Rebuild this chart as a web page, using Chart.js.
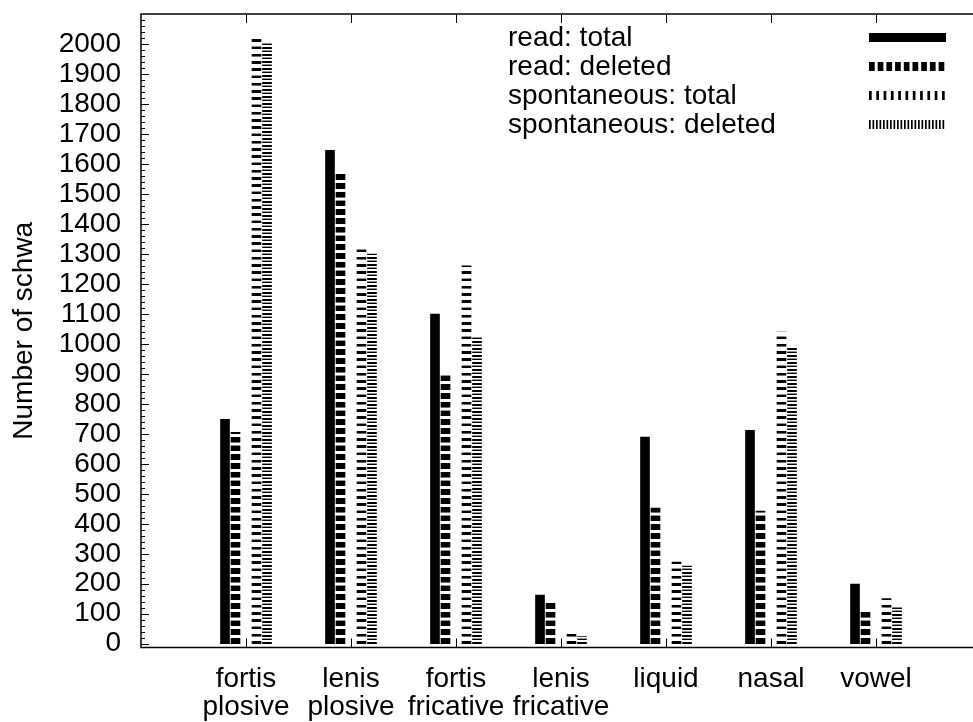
<!DOCTYPE html>
<html>
<head>
<meta charset="utf-8">
<script src="https://cdn.jsdelivr.net/npm/chart.js@4/dist/chart.umd.min.js"></script>
<style>
  html, body { margin: 0; padding: 0; background: #fff; overflow: hidden; }
  canvas { display: block; }
</style>
</head>
<body>
<canvas id="schwaChart" width="985" height="722"></canvas>
<script>
// categories on the x axis (two-line labels)
const categories = [
  ['fortis', 'plosive'], ['lenis', 'plosive'], ['fortis', 'fricative'],
  ['lenis', 'fricative'], ['liquid'], ['nasal'], ['vowel']
];
const seriesNames = ['read: total', 'read: deleted', 'spontaneous: total', 'spontaneous: deleted'];

// values
const readTotal    = [748, 1645, 1099, 162, 689, 712, 199];
const readDeleted  = [705, 1570,  899, 135, 452, 442, 105];
const spontTotal   = [2022, 1323, 1260, 32, 272, 1039, 151];
const spontDeleted = [2003, 1300, 1023, 24, 259,  987, 120];

const yTicks = [0, 100, 200, 300, 400, 500, 600, 700, 800, 900, 1000,
                1100, 1200, 1300, 1400, 1500, 1600, 1700, 1800, 1900, 2000];

// bar offset inside a group and dash style [on, off] per series
const offsets = [-0.2, -0.1, 0.1, 0.2];
const dashes = [null, [5.7, 3], [2.7, 4.6], [1.7, 1.8]];

const canvas = document.getElementById('schwaChart');
const ctx = canvas.getContext('2d');

function stripePattern(d) {
  if (!d) return '#000';
  const k = 4;
  const c = document.createElement('canvas');
  c.width = k;
  c.height = Math.round((d[0] + d[1]) * k);
  const g = c.getContext('2d');
  g.fillStyle = '#000';
  const on = Math.round(d[0] * k);
  g.fillRect(0, c.height - on, c.width, on);
  return ctx.createPattern(c, 'repeat');
}
const patterns = dashes.map(stripePattern);

Chart.defaults.font.family = "'Liberation Sans', Arial, sans-serif";
Chart.defaults.font.size = 28;
Chart.defaults.color = '#000';

const allSeries = [readTotal, readDeleted, spontTotal, spontDeleted];

const framePlugin = {
  id: 'frame',
  beforeDatasetsDraw(chart) {
    const base = chart.scales.y.getPixelForValue(0);
    patterns.forEach(p => {
      if (typeof p !== 'string') p.setTransform(new DOMMatrix().translate(0, base).scale(0.25, 0.25));
    });
  },
  afterDatasetsDraw(chart) {
    const { ctx, chartArea: a, scales: { x, y } } = chart;
    ctx.save();
    ctx.strokeStyle = '#000';
    ctx.lineWidth = 1;
    ctx.beginPath();
    for (let v = 0; v <= 2080; v += 20) {
      const py = Math.round(y.getPixelForValue(v)) + 0.5;
      const len = v % 100 === 0 ? 8 : 4;
      ctx.moveTo(a.left, py); ctx.lineTo(a.left + len, py);
      ctx.moveTo(a.right, py); ctx.lineTo(a.right - len, py);
    }
    categories.forEach((c, i) => {
      const px = Math.round(x.getPixelForValue(i)) + 0.5;
      ctx.moveTo(px, a.bottom); ctx.lineTo(px, a.bottom - 9);
      ctx.moveTo(px, a.top); ctx.lineTo(px, a.top + 9);
    });
    ctx.stroke();
    ctx.lineWidth = 1.5;
    ctx.strokeRect(a.left, a.top, a.right - a.left, a.bottom - a.top);

    // key
    ctx.font = "28px 'Liberation Sans', Arial, sans-serif";
    ctx.textBaseline = 'middle';
    ctx.textAlign = 'left';
    ctx.fillStyle = '#000';
    seriesNames.forEach((name, i) => {
      const ly = 37.5 + i * 29;
      ctx.fillText(name, 508, ly + 1);
      ctx.lineWidth = 9;
      ctx.setLineDash(dashes[i] || []);
      ctx.beginPath();
      ctx.moveTo(869, ly);
      ctx.lineTo(946, ly);
      ctx.stroke();
    });
    ctx.restore();
  }
};

new Chart(canvas, {
  type: 'bar',
  data: {
    datasets: allSeries.map((vals, s) => ({
      label: seriesNames[s],
      data: vals.map((v, i) => ({ x: i + offsets[s], y: v })),
      backgroundColor: patterns[s],
      borderWidth: 0,
      barThickness: 9,
      grouped: false
    }))
  },
  options: {
    responsive: false,
    animation: false,
    layout: { padding: { left: 0, top: 14, right: 4, bottom: 0 } },
    plugins: { legend: { display: false }, tooltip: { enabled: false } },
    scales: {
      x: {
        type: 'linear',
        min: -1,
        max: 7,
        offset: false,
        grid: { display: false, drawTicks: false },
        border: { display: false },
        afterBuildTicks: s => { s.ticks = categories.map((c, i) => ({ value: i })); },
        afterFit: s => { s.height = 74.5; s.paddingLeft = 0; s.paddingRight = 0; },
        ticks: {
          autoSkip: false,
          maxRotation: 0,
          padding: 18,
          font: { size: 28, lineHeight: 1.0 },
          callback: v => categories[v]
        }
      },
      y: {
        min: -12.5,
        max: 2100,
        grid: { display: false, drawTicks: false },
        border: { display: false },
        afterBuildTicks: s => { s.ticks = yTicks.map(v => ({ value: v })); },
        afterFit: s => { s.width = 141; s.paddingTop = 0; s.paddingBottom = 0; },
        ticks: { autoSkip: false, padding: 20, font: { size: 28 }, callback: v => String(v) },
        title: {
          display: true,
          text: 'Number of schwa',
          font: { size: 28, lineHeight: 1.2 },
          padding: { top: 7, bottom: 0 }
        }
      }
    }
  },
  plugins: [framePlugin]
});
</script>
</body>
</html>
